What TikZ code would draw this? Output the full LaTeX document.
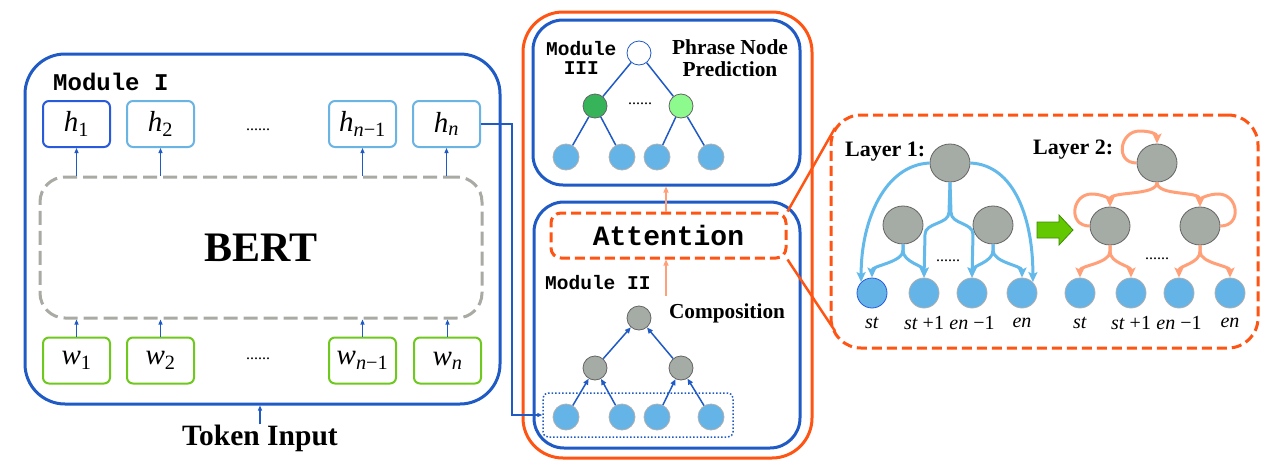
\documentclass[tikz,border=0pt]{standalone}
\usepackage{fontspec}
\setmainfont{Liberation Serif}
\setmonofont{Liberation Mono}
\usetikzlibrary{arrows.meta,shapes.geometric}

\newcommand{\fs}[1]{\fontsize{#1}{#1}\selectfont}
\newcommand{\vsub}[2]{\textit{#1}\textsubscript{#2}}

\begin{document}
\begin{tikzpicture}[x=1pt,y=-1pt,
  modbox/.style={draw=modBlue,line width=3pt,rounded corners=#1,inner sep=0pt},
  hbox/.style={draw=hBlue,line width=2pt,rounded corners=6pt,minimum width=67pt,minimum height=46pt,inner sep=0pt,font=\fs{29}},
  wbox/.style={hbox,draw=wGreen},
  ttlabel/.style={font=\ttfamily\bfseries\fs{#1},inner sep=0pt},
  rmlabel/.style={font=\bfseries\fs{#1},inner sep=0pt,align=center},
  dots/.style={font=\fs{16},inner sep=0pt},
  upArr/.style={draw=modBlue,line width=1.2pt,-{Triangle[length=5pt,width=4pt]}},
  peachArr/.style={draw=peach,line width=1.2pt,-{Triangle[length=6pt,width=5pt]}},
  leaf/.style={circle,fill=leafBlue,draw=leafRim,line width=0.8pt,minimum size=#1,inner sep=0pt},
  inner/.style={circle,fill=nodeGray,draw=nodeRim,line width=0.8pt,minimum size=24pt,inner sep=0pt},
  blob/.style={ellipse,fill=nodeGray,draw=nodeRim,line width=0.8pt,minimum width=40pt,minimum height=38pt,inner sep=0pt},
  treeLine/.style={draw=modBlue,line width=1.5pt},
  treeArr/.style={treeLine,-{Triangle[length=6pt,width=5pt]}},
  skyArr/.style={draw=sky,line width=3pt,-{Stealth[length=10pt,width=9pt,inset=2pt]}},
  salmonArr/.style={draw=peach,line width=3pt,-{Stealth[length=10pt,width=9pt,inset=2pt]}},
  idx/.style={font=\fs{20},inner sep=0pt}]
\definecolor{modBlue}{RGB}{31,90,197}
\definecolor{hBlue}{RGB}{106,180,228}
\definecolor{hDark}{RGB}{40,90,220}
\definecolor{wGreen}{RGB}{110,200,30}
\definecolor{bertGray}{RGB}{170,170,165}
\definecolor{hot}{RGB}{255,85,20}
\definecolor{peach}{RGB}{255,160,120}
\definecolor{leafBlue}{RGB}{100,180,232}
\definecolor{leafRim}{RGB}{175,175,175}
\definecolor{nodeGray}{RGB}{165,172,165}
\definecolor{nodeRim}{RGB}{100,100,100}
\definecolor{deepGreen}{RGB}{55,180,90}
\definecolor{paleGreen}{RGB}{140,250,140}
\definecolor{sky}{RGB}{100,185,235}
\definecolor{arrowGreen}{RGB}{100,200,0}
\definecolor{arrowRim}{RGB}{60,140,0}
\path[use as bounding box,fill=white] (0,0) rectangle (1288,474);

% Module I
\node[modbox=40pt,minimum width=475pt,minimum height=350pt] (mod1) at (262.5,229) {};
\node[ttlabel=24,anchor=west] (lab1) at (53,82) {Module I};
\node[draw=bertGray,dashed,dash pattern=on 14pt off 6pt,line width=3pt,rounded corners=25pt,minimum width=442pt,minimum height=141pt,inner sep=0pt,font=\bfseries\fs{42}] (bert) at (261,247.5) {BERT};
\node[hbox,draw=hDark] (h1) at (76.5,124) {\vsub{h}{1}};
\node[hbox] (h2) at (160.5,124) {\vsub{h}{2}};
\node[hbox] (hm) at (362.5,124) {\vsub{h}{\textit{n}−1}};
\node[hbox] (hn) at (446.5,124) {\vsub{h}{\textit{n}}};
\node[dots] (hdots) at (258,130) {......};
\node[wbox] (w1) at (76.5,360.5) {\vsub{w}{1}};
\node[wbox] (w2) at (160.5,360.5) {\vsub{w}{2}};
\node[wbox] (wm) at (362.5,360.5) {\vsub{w}{\textit{n}−1}};
\node[wbox] (wn) at (447.5,360.5) {\vsub{w}{\textit{n}}};
\node[dots] (wdots) at (258,359) {......};
\foreach \t in {h1,h2,hm,hn}
  \draw[upArr] (\t.south |- bert.north) -- (\t.south);
\foreach \b in {w1,w2,wm,wn}
  \draw[upArr] (\b.north) -- (\b.north |- bert.south);
\node[rmlabel=29.5] (tok) at (260,438) {Token Input};
\draw[upArr] (tok.north) -- (tok.north |- mod1.south);

% Modules II and III
\node[draw=hot,line width=3pt,rounded corners=40pt,minimum width=289pt,minimum height=446pt,inner sep=0pt] (outer) at (667.5,235) {};
\node[modbox=30pt,minimum width=267pt,minimum height=165pt] (mod3) at (666.5,102.5) {};
\node[modbox=30pt,minimum width=266pt,minimum height=246pt] (mod2) at (667,325) {};
\node[ttlabel=19.5,anchor=west,align=center] (lab3) at (546,58) {Module\\III};
\node[rmlabel=21.4] (phr) at (730,58) {Phrase Node\\Prediction};
\node[circle,fill=white,draw=modBlue,line width=0.8pt,minimum size=24pt,inner sep=0pt] (r3) at (639,53) {};
\node[inner,fill=deepGreen] (m3a) at (595,106) {};
\node[inner,fill=paleGreen] (m3b) at (681,106) {};
\node[dots] (m3dots) at (640,104) {......};
\node[leaf=26pt] (l3a) at (566,157) {};
\node[leaf=26pt] (l3b) at (622,157) {};
\node[leaf=26pt] (l3c) at (657,157) {};
\node[leaf=26pt] (l3d) at (711,157) {};
\draw[treeLine] (r3) -- (m3a);
\draw[treeLine] (r3) -- (m3b);
\draw[treeLine] (m3a) -- (l3a);
\draw[treeLine] (m3a) -- (l3b);
\draw[treeLine] (m3b) -- (l3c);
\draw[treeLine] (m3b) -- (l3d);

\node[draw=hot,dashed,dash pattern=on 10pt off 5pt,line width=3pt,rounded corners=10pt,minimum width=235pt,minimum height=45pt,inner sep=0pt,font=\ttfamily\bfseries\fs{28}] (attn) at (668.5,235.5) {Attention};
\node[ttlabel=19.5,anchor=west] (lab2) at (545,283) {Module II};
\node[rmlabel=21.3] (comp) at (727,313) {Composition};
\coordinate (cmp) at (666,296);
\draw[peachArr] (cmp) -- (cmp |- attn.south);
\draw[peachArr] (cmp |- attn.north) -- (cmp |- mod3.south);
\node[draw=modBlue,dotted,line width=1.5pt,rounded corners=5pt,minimum width=190pt,minimum height=44pt,inner sep=0pt] (dotrow) at (638,415) {};
\node[inner] (r2) at (639,318) {};
\node[inner] (m2a) at (595,368) {};
\node[inner] (m2b) at (681,368) {};
\node[leaf=26pt] (l2a) at (566,417) {};
\node[leaf=26pt] (l2b) at (622,417) {};
\node[leaf=26pt] (l2c) at (657,417) {};
\node[leaf=26pt] (l2d) at (711,417) {};
\draw[treeArr] (m2a) -- (r2);
\draw[treeArr] (m2b) -- (r2);
\draw[treeArr] (l2a) -- (m2a);
\draw[treeArr] (l2b) -- (m2a);
\draw[treeArr] (l2c) -- (m2b);
\draw[treeArr] (l2d) -- (m2b);

% h_n feeds the leaves of Module II
\coordinate (turn) at (512,415);
\draw[draw=modBlue,line width=1.2pt,-{Triangle[length=5pt,width=4pt]}] (hn.east) -| (turn) -- (dotrow.west);

% attention detail
\node[draw=hot,dashed,dash pattern=on 10pt off 5pt,line width=3pt,rounded corners=30pt,minimum width=427pt,minimum height=233pt,inner sep=0pt] (layers) at (1044.5,231.5) {};
\coordinate (cTop) at (835,128);
\coordinate (cBot) at (835,331);
\draw[hot,line width=2.5pt] (attn.north east) -- (cTop);
\draw[hot,line width=2.5pt] (attn.south east) -- (cBot);

% Layer 1
\node[rmlabel=22,anchor=west] (lay1) at (845,152) {Layer 1:};
\node[blob] (p1) at (950,163) {};
\node[blob] (p1a) at (903,225) {};
\node[blob] (p1b) at (993,225) {};
\node[leaf=30pt,draw=hDark] (q1a) at (872,293) {};
\node[leaf=30pt] (q1b) at (924,293) {};
\node[leaf=30pt] (q1c) at (972,293) {};
\node[leaf=30pt] (q1d) at (1022,293) {};
\node[dots] (d1) at (948,261) {......};
\draw[skyArr] (p1.west) .. controls (885,165) and (861,220) .. (q1a.north west);
\draw[skyArr] (p1.east) .. controls (1015,165) and (1033,220) .. (q1d.north east);
\draw[skyArr] (p1.south) -- ++(-1,30) .. controls +(0,12) and +(0,-12) .. ++(-24,22) -- (q1b.north);
\draw[skyArr] (p1.south) -- ++(1,30) .. controls +(0,12) and +(0,-12) .. ++(22,22) -- (q1c.north);
\draw[skyArr] (p1a.south) -- ++(0,6) .. controls +(0,12) and +(0,-12) .. (q1a.north);
\draw[skyArr] (p1a.south) -- ++(0,6) .. controls +(0,12) and +(0,-12) .. (q1b.north);
\draw[skyArr] (p1b.south) -- ++(0,6) .. controls +(0,12) and +(0,-12) .. (q1c.north);
\draw[skyArr] (p1b.south) -- ++(0,6) .. controls +(0,12) and +(0,-12) .. (q1d.north);

% green step arrow
\draw[fill=arrowGreen,draw=arrowRim,line width=0.8pt] (1037,222) -- (1059,222) -- (1059,215) -- (1073,230) -- (1059,245) -- (1059,238) -- (1037,238) -- cycle;

% Layer 2
\node[rmlabel=22,anchor=west] (lay2) at (1033,150) {Layer 2:};
\node[blob] (p2) at (1157,163) {};
\node[blob] (p2a) at (1110,226) {};
\node[blob] (p2b) at (1200,226) {};
\node[leaf=30pt] (q2a) at (1080,293) {};
\node[leaf=30pt] (q2b) at (1131,293) {};
\node[leaf=30pt] (q2c) at (1179,293) {};
\node[leaf=30pt] (q2d) at (1230,293) {};
\node[dots] (d2) at (1157,259) {......};
\draw[salmonArr] (p2.west) .. controls +(-22,0) and +(-20,0) .. ++(3,-32) .. controls +(10,0) and +(0,-10) .. (p2.north);
\draw[salmonArr] (p2a.west) .. controls +(-22,0) and +(-20,0) .. ++(2,-32) .. controls +(10,0) and +(0,-8) .. (p2a.north);
\draw[salmonArr] (p2b.east) .. controls +(22,0) and +(20,0) .. ++(-2,-32) .. controls +(-10,0) and +(0,-8) .. (p2b.north);
\draw[salmonArr] (p2.south) .. controls +(0,14) and +(0,-16) .. (p2a.north);
\draw[salmonArr] (p2.south) .. controls +(0,14) and +(0,-16) .. (p2b.north);
\draw[salmonArr] (p2a.south) -- ++(0,6) .. controls +(0,12) and +(0,-12) .. (q2a.north);
\draw[salmonArr] (p2a.south) -- ++(0,6) .. controls +(0,12) and +(0,-12) .. (q2b.north);
\draw[salmonArr] (p2b.south) -- ++(0,6) .. controls +(0,12) and +(0,-12) .. (q2c.north);
\draw[salmonArr] (p2b.south) -- ++(0,6) .. controls +(0,12) and +(0,-12) .. (q2d.north);

% leaf indices
\foreach \n/\x in {1/872,2/1080} {
  \node[idx] (st\n) at (\x,323) {\textit{st}};
}
\foreach \n/\x in {1/924,2/1131} {
  \node[idx] (sp\n) at (\x,323) {\textit{st} +1};
}
\foreach \n/\x in {1/972,2/1179} {
  \node[idx] (em\n) at (\x,323) {\textit{en} −1};
}
\foreach \n/\x in {1/1022,2/1230} {
  \node[idx] (en\n) at (\x,323) {\textit{en}};
}
\end{tikzpicture}
\end{document}
